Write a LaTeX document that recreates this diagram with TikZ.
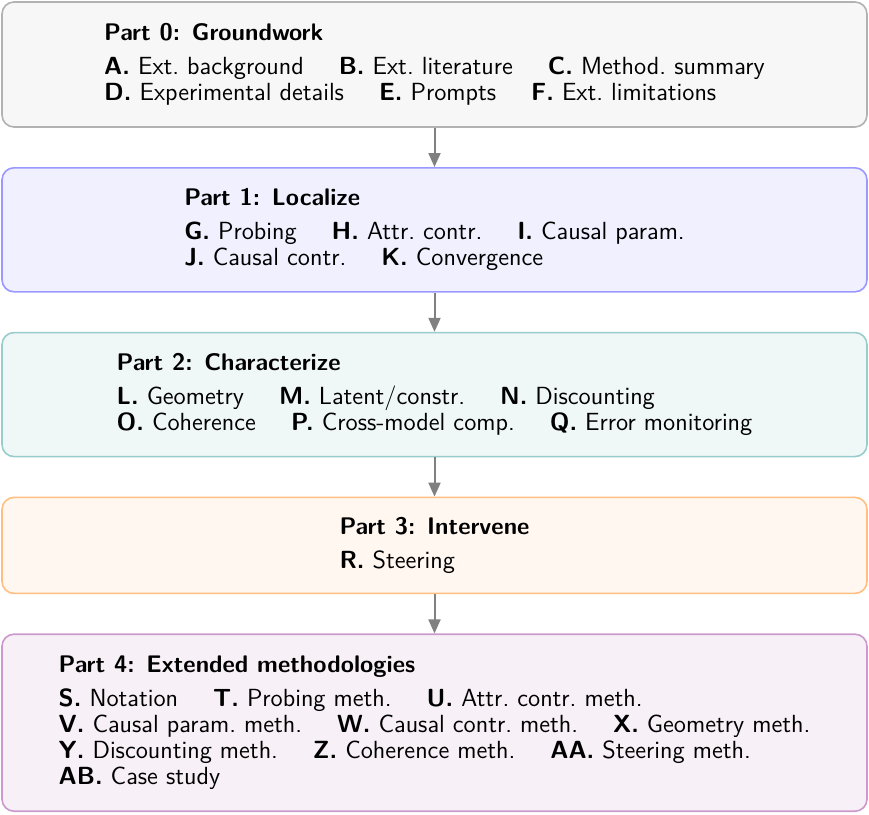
\documentclass[tikz,border=0pt]{standalone}
\usetikzlibrary{positioning,arrows.meta}
\newcommand{\partgap}{\hspace{17.5pt}}
\newcommand{\parthead}[1]{\textbf{\fontsize{12}{13}\selectfont #1}}

\begin{document}
\begin{tikzpicture}[
    part/.style={draw, rounded corners=6pt, line width=0.8pt, minimum width=432.5pt, align=left,
        font=\fontsize{12.4}{13}\selectfont\sffamily},
    flow/.style={-{Triangle[length=7pt,width=6pt]}, line width=1pt, gray},
    node distance=19.6pt]
    \useasboundingbox (0,0) rectangle (434.5pt,-407.5pt);
    \node[part, draw=gray!60, fill=gray!6, minimum height=62.5pt] (part0) at (217.25pt,-32.25pt)
        {\parthead{Part 0: Groundwork}\\[4pt]
         \textbf{A.} Ext.\ background\partgap\textbf{B.} Ext.\ literature\partgap\textbf{C.} Method.\ summary\\
         \textbf{D.} Experimental details\partgap\textbf{E.} Prompts\partgap\textbf{F.} Ext.\ limitations};
    \node[part, draw=blue!40, fill=blue!6, minimum height=62pt, below=of part0] (part1)
        {\parthead{Part 1: Localize}\\[4pt]
         \textbf{G.} Probing\partgap\textbf{H.} Attr.\ contr.\partgap\textbf{I.} Causal param.\\
         \textbf{J.} Causal contr.\partgap\textbf{K.} Convergence};
    \node[part, draw=teal!40, fill=teal!6, minimum height=62pt, below=of part1] (part2)
        {\parthead{Part 2: Characterize}\\[4pt]
         \textbf{L.} Geometry\partgap\textbf{M.} Latent/constr.\partgap\textbf{N.} Discounting\\
         \textbf{O.} Coherence\partgap\textbf{P.} Cross-model comp.\partgap\textbf{Q.} Error monitoring};
    \node[part, draw=orange!50, fill=orange!6, minimum height=48pt, below=of part2] (part3)
        {\parthead{Part 3: Intervene}\\[4pt]
         \textbf{R.} Steering};
    \node[part, draw=violet!40, fill=violet!6, minimum height=88.5pt, below=of part3] (part4)
        {\parthead{Part 4: Extended methodologies}\\[4pt]
         \textbf{S.} Notation\partgap\textbf{T.} Probing meth.\partgap\textbf{U.} Attr.\ contr.\ meth.\\
         \textbf{V.} Causal param.\ meth.\partgap\textbf{W.} Causal contr.\ meth.\partgap\textbf{X.} Geometry meth.\\
         \textbf{Y.} Discounting meth.\partgap\textbf{Z.} Coherence meth.\partgap\textbf{AA.} Steering meth.\\
         \textbf{AB.} Case study};
    \draw[flow] (part0) -- (part1);
    \draw[flow] (part1) -- (part2);
    \draw[flow] (part2) -- (part3);
    \draw[flow] (part3) -- (part4);
\end{tikzpicture}
\end{document}
